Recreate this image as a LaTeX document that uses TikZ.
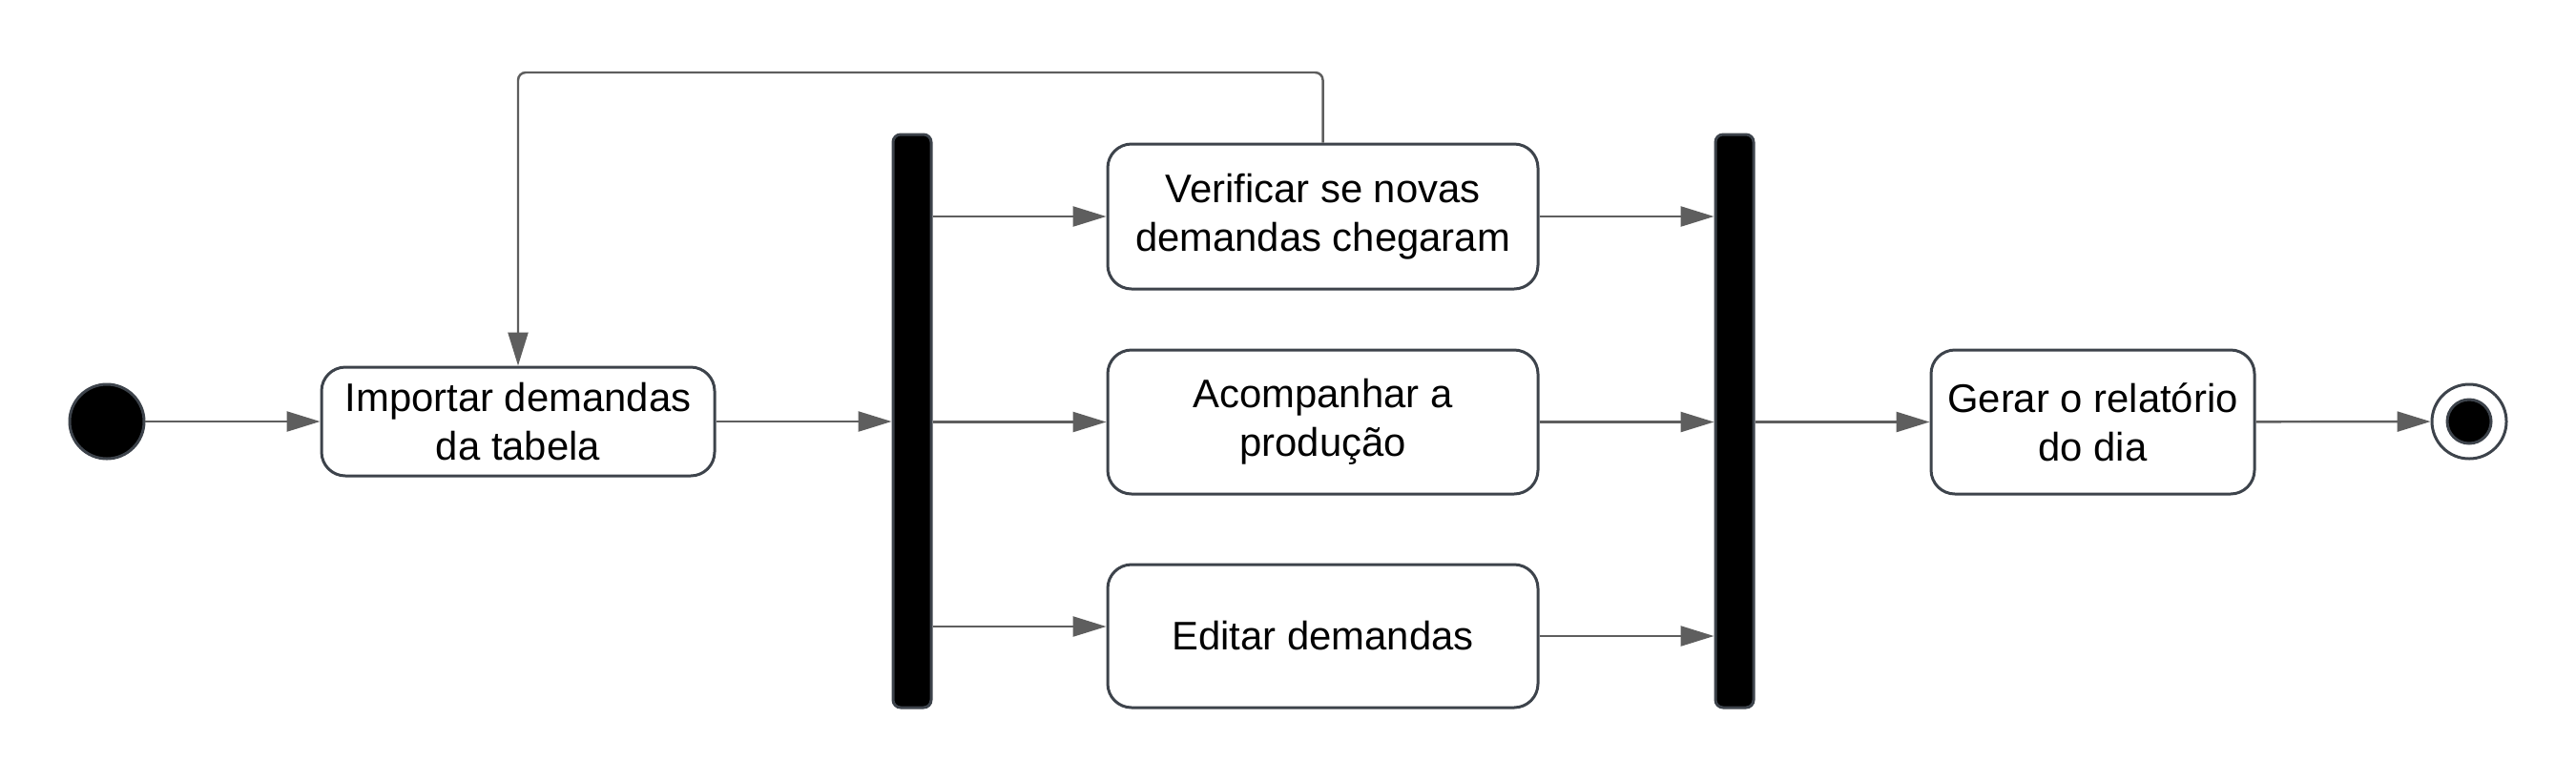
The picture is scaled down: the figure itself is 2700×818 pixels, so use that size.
\documentclass[tikz,border=0pt]{standalone}
\usepackage{fontspec}
\setmainfont{Liberation Sans}
\usetikzlibrary{arrows.meta,positioning}
\definecolor{edgegray}{HTML}{5E5E5E}
\definecolor{boxgray}{HTML}{3D434B}
\tikzset{
  flow/.style={draw=edgegray,line width=0.7pt,-{Triangle[length=3.5mm,width=2.1mm]}},
  act/.style={draw=boxgray,line width=0.85pt,rounded corners=2.5mm,fill=white,align=center,
    font=\fontsize{11.9}{14.6}\selectfont,inner sep=0pt},
  bar/.style={draw=boxgray,line width=0.85pt,fill=black,rounded corners=0.8mm,
    minimum width=4mm,minimum height=60.1mm,inner sep=0pt}
}
\begin{document}
\begin{tikzpicture}[x=0.1mm,y=-0.1mm]
  \useasboundingbox (0,0) rectangle (2700,818);
  % start and end
  \node[circle,draw=boxgray,line width=0.85pt,fill=black,minimum size=7.8mm,inner sep=0pt] (start) at (112,442) {};
  \node[circle,draw=boxgray,line width=0.85pt,fill=white,minimum size=7.8mm,inner sep=0pt] (stop) at (2588,442) {};
  \node[circle,draw=boxgray,line width=0.85pt,fill=black,minimum size=4.6mm,inner sep=0pt] at (stop) {};
  % activities
  \node[act,minimum width=41.2mm,minimum height=11.4mm] (imp) at (543,442) {Importar demandas\\da tabela};
  \node[act,minimum width=45.1mm,minimum height=15.2mm] (verif) at (1386.5,227) {Verificar se novas\\demandas chegaram};
  \node[act,minimum width=45.1mm,minimum height=15.1mm] (acomp) at (1386.5,442.5) {Acompanhar a\\produção};
  \node[act,minimum width=45.1mm,minimum height=15.0mm] (edit) at (1386.5,667) {Editar demandas};
  \node[act,minimum width=33.9mm,minimum height=15.1mm] (gerar) at (2193.5,442.5) {Gerar o relatório\\do dia};
  % fork and join
  \node[bar] (fork) at (956,441.5) {};
  \node[bar] (join) at (1818,441.5) {};
  \coordinate (ein) at ([yshift=1mm]edit.west);
  \coordinate (loop) at (543,76);
  % arrows
  \draw[flow] (start) -- (imp);
  \draw[flow] (imp) -- (fork.west |- imp.east);
  \foreach \a in {verif,acomp}{
    \draw[flow] (fork.east |- \a.west) -- (\a.west);
    \draw[flow] (\a.east) -- (join.west |- \a.east);
  }
  \draw[flow] (fork.east |- ein) -- (ein);
  \draw[flow] (edit.east) -- (join.west |- edit.east);
  \draw[flow] (join.east |- gerar.west) -- (gerar);
  \draw[flow] (gerar) -- (stop);
  \draw[flow,rounded corners=0.8mm] (verif.north) |- (loop) -- (imp.north);
\end{tikzpicture}
\end{document}
